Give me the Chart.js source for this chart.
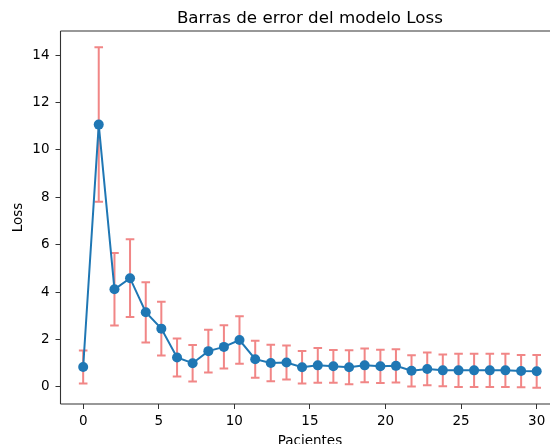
<!DOCTYPE html>
<html>
<head>
<meta charset="utf-8">
<script src="https://cdn.jsdelivr.net/npm/chart.js@4.4.1/dist/chart.umd.min.js"></script>
<style>
    html, body { margin: 0; padding: 0; overflow: hidden; background: #fff; }
    canvas { display: block; }
</style>
</head>
<body>
<canvas id="myChart" width="550" height="444"></canvas>
<script>
// data
const pacientes = [0, 1.03, 2.07, 3.10, 4.14, 5.17, 6.21, 7.24, 8.28, 9.31,
    10.34, 11.38, 12.41, 13.45, 14.48, 15.52, 16.55, 17.59, 18.62, 19.66,
    20.69, 21.72, 22.76, 23.79, 24.83, 25.86, 26.90, 27.93, 28.97, 30];
const lossMedia = [0.84, 11.07, 4.12, 4.59, 3.15, 2.46, 1.24, 1.00, 1.51, 1.69,
    1.98, 1.17, 1.01, 1.03, 0.83, 0.91, 0.87, 0.83, 0.91, 0.87,
    0.89, 0.68, 0.76, 0.70, 0.70, 0.70, 0.70, 0.70, 0.67, 0.66];
const lossError = [0.70, 3.26, 1.53, 1.64, 1.27, 1.13, 0.80, 0.77, 0.90, 0.91,
    1.00, 0.78, 0.77, 0.72, 0.69, 0.73, 0.69, 0.72, 0.71, 0.70,
    0.70, 0.66, 0.69, 0.67, 0.70, 0.70, 0.70, 0.70, 0.68, 0.69];
const xTicks = [0, 5, 10, 15, 20, 25, 30];
const yTicks = [0, 2, 4, 6, 8, 10, 12, 14];

const titulo = 'Barras de error del modelo Loss';
const tituloX = 'Pacientes';

const fontTicks = { family: 'DejaVu Sans', size: 13.5 };

// error bars, axes frame and centred titles
const errorBars = {
    id: 'errorBars',
    beforeDatasetsDraw(chart) {
        const ctx = chart.ctx;
        const x = chart.scales.x;
        const y = chart.scales.y;
        ctx.save();
        ctx.strokeStyle = 'rgba(240, 128, 128, 0.95)';
        ctx.lineWidth = 2;
        for (let i = 0; i < lossMedia.length; i++) {
            const px = x.getPixelForValue(pacientes[i]);
            const top = y.getPixelForValue(lossMedia[i] + lossError[i]);
            const bot = y.getPixelForValue(lossMedia[i] - lossError[i]);
            ctx.beginPath();
            ctx.moveTo(px, top);
            ctx.lineTo(px, bot);
            ctx.moveTo(px - 4.3, top);
            ctx.lineTo(px + 4.3, top);
            ctx.moveTo(px - 4.3, bot);
            ctx.lineTo(px + 4.3, bot);
            ctx.stroke();
        }
        ctx.restore();
    },
    afterDraw(chart) {
        const a = chart.chartArea;
        const ctx = chart.ctx;
        const x = chart.scales.x;
        ctx.save();
        // spines: top, left, bottom (the right one lies outside the picture)
        ctx.strokeStyle = '#333';
        ctx.lineWidth = 1.1;
        ctx.beginPath();
        ctx.moveTo(a.left, a.top);
        ctx.lineTo(chart.width, a.top);
        ctx.moveTo(a.left, a.top);
        ctx.lineTo(a.left, a.bottom);
        ctx.moveTo(a.left, a.bottom);
        ctx.lineTo(chart.width, a.bottom);
        ctx.stroke();

        // titles centred on the axes (x from -1.5 to 31.5)
        const cx = x.getPixelForValue(15);
        ctx.fillStyle = '#000';
        ctx.textAlign = 'center';
        ctx.textBaseline = 'alphabetic';
        ctx.font = '16.7px "DejaVu Sans"';
        ctx.fillText(titulo, cx, 22.5);
        ctx.font = '13.5px "DejaVu Sans"';
        ctx.fillText(tituloX, cx, 444.5);
        ctx.restore();
    }
};

const ctx = document.getElementById('myChart');
const myChart = new Chart(ctx, {
    type: 'line',
    data: {
        datasets: [{
            label: 'Loss',
            data: pacientes.map((p, i) => ({ x: p, y: lossMedia[i] })),
            borderColor: '#1f77b4',
            backgroundColor: '#1f77b4',
            borderWidth: 2,
            pointRadius: 5,
            pointBorderWidth: 0,
            tension: 0
        }]
    },
    options: {
        responsive: false,
        animation: false,
        devicePixelRatio: 1,
        layout: { padding: { left: 0, right: 0, top: 31, bottom: 0 } },
        plugins: {
            legend: { display: false },
            tooltip: { enabled: false },
            title: { display: false }
        },
        scales: {
            x: {
                type: 'linear',
                min: -1.5,
                max: 30.55,   // chart area ends ~5px before the canvas edge (point overflow)
                afterFit(scale) {
                    scale.height = 40;
                    scale.paddingLeft = 0;
                    scale.paddingRight = 0;
                },
                afterBuildTicks(scale) { scale.ticks = xTicks.map(v => ({ value: v })); },
                grid: { display: true, drawOnChartArea: false, drawTicks: true, tickLength: 5, color: '#333' },
                border: { display: false },
                ticks: { color: '#000', font: fontTicks, padding: 4, maxRotation: 0 }
            },
            y: {
                type: 'linear',
                min: -0.72,
                max: 15.02,
                afterFit(scale) {
                    scale.width = 60.5;
                    scale.paddingTop = 0;
                    scale.paddingBottom = 0;
                },
                afterBuildTicks(scale) { scale.ticks = yTicks.map(v => ({ value: v })); },
                grid: { display: true, drawOnChartArea: false, drawTicks: true, tickLength: 5, color: '#333' },
                border: { display: false },
                ticks: { color: '#000', font: fontTicks, padding: 6 },
                title: {
                    display: true,
                    text: 'Loss',
                    color: '#000',
                    font: fontTicks,
                    padding: { top: 10, bottom: 0 }
                }
            }
        }
    },
    plugins: [errorBars]
});
</script>
</body>
</html>
